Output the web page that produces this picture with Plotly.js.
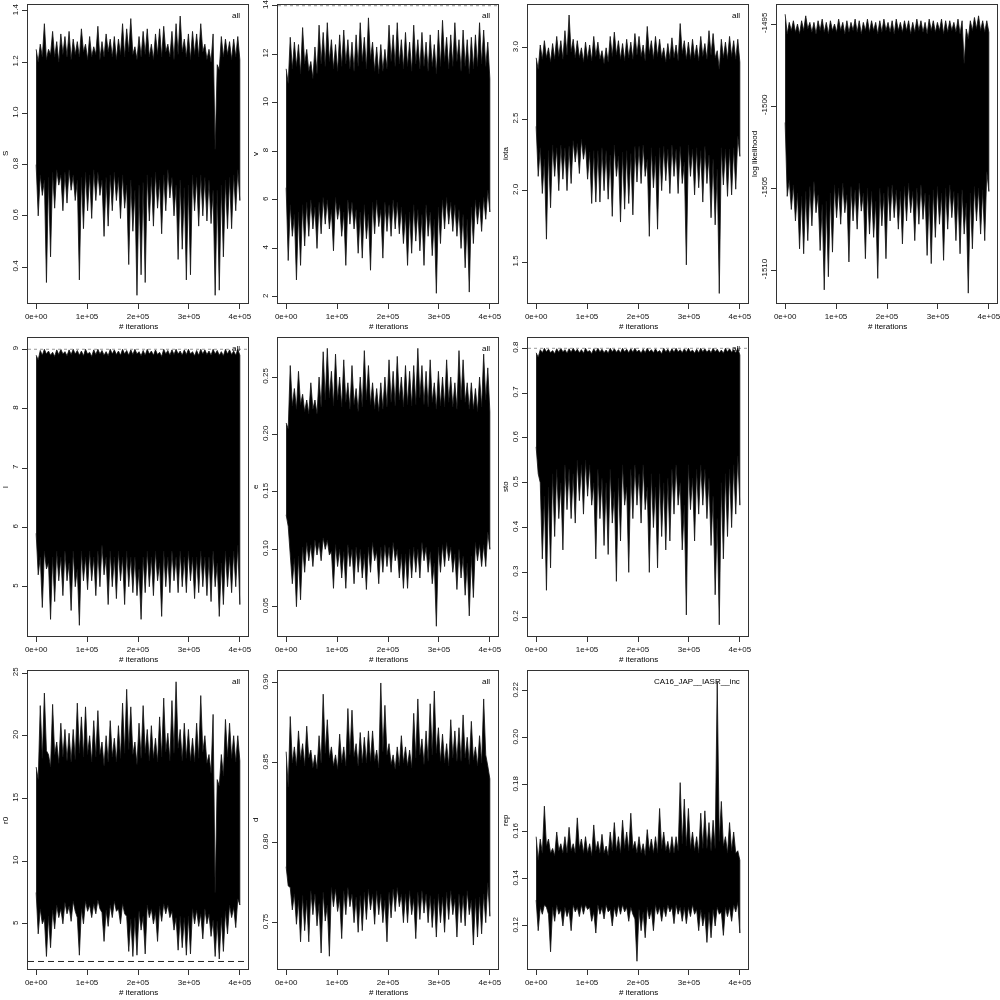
<!DOCTYPE html>
<html>
<head>
<meta charset="utf-8">
<script src="https://cdn.plot.ly/plotly-3.0.1.min.js"></script>
<style>html,body{margin:0;padding:0;background:#fff;}#chart{width:1000px;height:1000px;will-change:transform;}</style>
</head>
<body>
<div id="chart"></div>
<script>
// ---------- data: spike peaks / valleys of each MCMC trace envelope ----------
const iterMax = 400000;
const xTickVals = [0, 100000, 200000, 300000, 400000];
const xTickText = ['0e+00', '1e+05', '2e+05', '3e+05', '4e+05'];

const S_peak = [1.25,1.27,1.35,1.25,1.32,1.28,1.31,1.30,1.32,1.29,1.28,1.33,1.27,1.30,1.26,1.34,1.28,1.31,1.29,1.30,1.29,1.35,1.33,1.37,1.26,1.30,1.32,1.33,1.27,1.31,1.33,1.34,1.27,1.32,1.35,1.38,1.29,1.31,1.32,1.31,1.35,1.27,1.25,1.31,1.19,1.30,1.29,1.28,1.29,1.30];
const S_topV = [1.20,1.22,1.21,1.23,1.22,1.20,1.23,1.22,1.21,1.23,1.22,1.24,1.21,1.22,1.23,1.21,1.22,1.24,1.22,1.21,1.23,1.22,1.24,1.23,1.21,1.22,1.23,1.22,1.21,1.23,1.22,1.24,1.22,1.21,1.23,1.24,1.22,1.21,1.23,1.22,1.24,1.21,1.20,0.86,1.17,1.22,1.23,1.21,1.22,1.21];
const S_trough = [0.60,0.68,0.34,0.44,0.63,0.72,0.62,0.65,0.70,0.66,0.35,0.55,0.62,0.59,0.66,0.68,0.52,0.56,0.62,0.66,0.59,0.63,0.41,0.54,0.29,0.37,0.34,0.58,0.56,0.63,0.53,0.62,0.67,0.60,0.43,0.47,0.35,0.37,0.62,0.56,0.60,0.58,0.57,0.29,0.31,0.44,0.55,0.55,0.62,0.66];
const S_botV = [0.80,0.76,0.74,0.75,0.77,0.78,0.76,0.77,0.78,0.76,0.74,0.75,0.77,0.76,0.78,0.77,0.74,0.75,0.76,0.77,0.75,0.76,0.72,0.74,0.70,0.72,0.73,0.76,0.75,0.77,0.74,0.76,0.78,0.75,0.72,0.74,0.71,0.72,0.76,0.75,0.76,0.75,0.74,0.70,0.70,0.72,0.74,0.75,0.76,0.78];

const v_peak = [11.4,12.7,12.5,12.4,13.1,12.2,11.7,12.3,13.2,12.9,13.3,12.6,12.4,12.8,13.0,12.6,12.5,12.8,13.3,12.7,13.5,12.5,12.3,12.4,12.2,13.2,12.8,13.3,12.6,12.9,12.5,13.2,12.6,12.9,12.5,12.8,12.4,13.0,13.4,12.7,12.8,13.3,12.6,13.0,12.6,12.7,12.8,13.3,13.0,12.5];
const v_topV = [10.8,11.4,11.5,11.2,11.6,11.3,11.0,11.2,11.6,11.5,11.7,11.4,11.3,11.5,11.6,11.4,11.3,11.5,11.7,11.4,11.8,11.3,11.2,11.3,11.4,11.7,11.5,11.6,11.4,11.5,11.3,11.6,11.4,11.5,11.3,11.5,11.2,11.5,11.7,11.4,11.5,11.7,11.3,11.5,11.2,11.4,11.5,11.6,11.5,11.0];
const v_trough = [3.5,4.5,2.7,3.3,4.1,4.5,4.8,4.0,4.6,5.0,4.8,3.9,5.2,4.5,3.3,5.0,4.8,3.8,3.6,4.4,3.1,4.6,4.9,3.6,4.7,4.5,4.8,4.6,4.2,3.3,3.8,4.3,3.9,3.3,4.5,3.7,2.15,4.2,4.8,5.0,4.7,4.5,4.0,3.2,2.2,4.2,5.0,4.7,5.2,5.5];
const v_botV = [6.5,5.8,5.4,5.5,5.8,5.9,6.0,5.7,5.9,6.1,6.0,5.6,6.1,5.8,5.5,6.0,5.9,5.6,5.5,5.8,5.4,5.9,6.0,5.6,5.9,5.8,6.0,5.9,5.7,5.4,5.5,5.8,5.6,5.4,5.8,5.5,5.2,5.7,6.0,6.1,5.9,5.8,5.6,5.4,5.2,5.7,6.0,5.9,6.1,6.4];

const iota_peak = [2.93,3.02,3.05,3.00,3.03,3.08,3.05,3.12,3.23,3.06,3.05,3.00,3.04,3.02,3.08,3.04,2.98,3.00,3.08,3.11,3.05,3.03,3.06,3.04,3.10,3.08,3.02,3.15,3.05,3.08,3.06,3.00,3.03,3.07,3.02,3.17,3.05,3.04,3.06,3.02,3.08,3.03,3.12,3.10,2.98,3.06,3.04,3.08,3.05,3.06];
const iota_topV = [2.85,2.92,2.93,2.90,2.92,2.94,2.92,2.95,2.97,2.93,2.93,2.90,2.92,2.91,2.94,2.92,2.89,2.90,2.94,2.95,2.92,2.91,2.93,2.92,2.95,2.94,2.91,2.96,2.92,2.94,2.93,2.90,2.92,2.93,2.91,2.96,2.92,2.92,2.93,2.91,2.94,2.92,2.95,2.93,2.85,2.93,2.92,2.94,2.92,2.90];
const iota_trough = [2.10,1.98,1.66,1.88,2.10,2.00,2.08,2.00,2.05,2.20,2.12,2.22,2.08,1.91,1.92,1.92,2.00,1.94,1.82,2.10,1.78,1.87,1.91,1.83,2.06,2.05,2.10,1.68,2.02,1.73,2.00,2.07,1.98,2.10,1.98,2.05,1.48,2.10,1.97,2.02,1.92,2.05,1.81,1.76,1.28,2.04,1.96,1.97,2.01,2.24];
const iota_botV = [2.45,2.30,2.22,2.28,2.32,2.30,2.32,2.30,2.31,2.35,2.33,2.36,2.32,2.27,2.28,2.28,2.30,2.28,2.25,2.32,2.24,2.27,2.28,2.26,2.31,2.31,2.32,2.22,2.30,2.24,2.30,2.31,2.29,2.32,2.29,2.31,2.20,2.32,2.29,2.30,2.28,2.31,2.25,2.22,2.15,2.30,2.29,2.29,2.30,2.38];

const ll_peak = [-1494.4,-1494.9,-1494.8,-1495.0,-1494.8,-1494.5,-1494.9,-1494.9,-1494.8,-1494.7,-1494.9,-1494.8,-1495.0,-1494.7,-1494.9,-1494.8,-1494.9,-1494.7,-1494.8,-1494.9,-1494.7,-1494.8,-1494.9,-1494.8,-1494.7,-1494.9,-1494.8,-1494.7,-1494.9,-1494.8,-1494.8,-1494.9,-1494.7,-1494.8,-1494.9,-1494.7,-1494.8,-1494.9,-1494.7,-1494.8,-1494.8,-1494.9,-1494.7,-1494.8,-1495.3,-1494.8,-1494.6,-1494.5,-1494.8,-1494.8];
const ll_topV = [-1495.6,-1495.4,-1495.5,-1495.6,-1495.4,-1495.3,-1495.5,-1495.6,-1495.4,-1495.5,-1495.6,-1495.4,-1495.5,-1495.4,-1495.6,-1495.5,-1495.4,-1495.5,-1495.6,-1495.4,-1495.5,-1495.4,-1495.6,-1495.5,-1495.4,-1495.5,-1495.6,-1495.4,-1495.5,-1495.4,-1495.6,-1495.5,-1495.4,-1495.5,-1495.6,-1495.4,-1495.5,-1495.4,-1495.6,-1495.5,-1495.4,-1495.5,-1495.6,-1497.4,-1495.9,-1495.4,-1495.3,-1495.4,-1495.5,-1495.5];
const ll_trough = [-1505.5,-1506.3,-1507.0,-1508.7,-1509.0,-1508.2,-1507.3,-1506.5,-1508.8,-1511.2,-1510.4,-1508.9,-1506.8,-1507.2,-1506.5,-1509.5,-1507.0,-1507.5,-1506.4,-1509.3,-1507.8,-1508.0,-1510.5,-1507.3,-1509.3,-1507.0,-1506.8,-1507.5,-1508.4,-1507.0,-1506.5,-1508.2,-1507.2,-1506.9,-1509.1,-1509.6,-1508.0,-1507.2,-1509.4,-1507.5,-1506.8,-1508.2,-1509.0,-1507.8,-1511.4,-1508.7,-1507.0,-1507.8,-1508.2,-1505.2];
const ll_botV = [-1501.0,-1504.5,-1504.8,-1505.3,-1505.5,-1505.2,-1504.9,-1504.6,-1505.4,-1506.0,-1505.8,-1505.3,-1504.8,-1505.0,-1504.7,-1505.4,-1504.9,-1505.1,-1504.7,-1505.3,-1505.0,-1505.2,-1505.8,-1505.0,-1505.3,-1504.9,-1504.8,-1505.1,-1505.2,-1504.9,-1504.7,-1505.2,-1505.0,-1504.8,-1505.3,-1505.4,-1505.1,-1504.9,-1505.3,-1505.0,-1504.8,-1505.2,-1505.3,-1505.1,-1505.9,-1505.3,-1504.9,-1505.0,-1505.1,-1504.0];

const l_peak = [8.90,8.98,9.00,8.97,8.95,8.99,9.00,8.96,8.99,9.00,8.98,8.97,9.00,8.95,8.99,9.00,8.98,8.96,9.00,8.99,8.97,9.00,8.98,8.99,9.00,8.96,8.98,9.00,8.97,8.99,8.95,9.00,8.98,8.99,9.00,8.97,8.99,9.00,8.96,8.98,9.00,8.99,8.97,9.00,8.98,8.96,9.00,8.99,8.97,9.00];
const l_topV = [8.82,8.90,8.92,8.90,8.88,8.91,8.92,8.89,8.91,8.92,8.90,8.89,8.92,8.88,8.91,8.92,8.90,8.89,8.92,8.91,8.90,8.92,8.90,8.91,8.92,8.89,8.90,8.92,8.90,8.91,8.88,8.92,8.90,8.91,8.92,8.90,8.91,8.92,8.89,8.90,8.92,8.91,8.90,8.92,8.90,8.89,8.92,8.91,8.90,8.90];
const l_trough = [5.2,4.65,5.3,4.45,4.75,5.1,4.85,5.1,4.6,5.0,4.35,5.1,4.95,5.1,4.85,5.0,5.2,4.7,5.0,4.8,5.1,4.7,5.0,4.9,4.85,4.45,4.9,5.0,4.85,5.1,4.5,5.0,4.9,5.1,4.9,5.0,4.9,5.1,4.8,4.9,5.0,4.85,4.75,5.0,4.5,4.7,5.0,4.9,5.0,4.7];
const l_botV = [5.9,5.5,5.6,5.4,5.5,5.6,5.5,5.6,5.4,5.6,5.3,5.6,5.5,5.6,5.5,5.6,5.7,5.5,5.6,5.5,5.6,5.5,5.6,5.5,5.5,5.3,5.5,5.6,5.5,5.6,5.4,5.6,5.5,5.6,5.5,5.6,5.5,5.6,5.5,5.5,5.6,5.5,5.5,5.6,5.4,5.4,5.6,5.5,5.6,5.7];

const e_peak = [0.210,0.260,0.240,0.255,0.235,0.230,0.245,0.230,0.250,0.272,0.275,0.255,0.270,0.250,0.265,0.245,0.260,0.240,0.250,0.273,0.260,0.245,0.240,0.245,0.250,0.265,0.255,0.268,0.250,0.260,0.255,0.260,0.275,0.260,0.255,0.265,0.245,0.255,0.250,0.265,0.250,0.245,0.273,0.265,0.245,0.245,0.240,0.250,0.270,0.258];
const e_topV = [0.205,0.225,0.222,0.226,0.220,0.218,0.222,0.218,0.224,0.230,0.232,0.225,0.230,0.224,0.228,0.222,0.226,0.220,0.224,0.230,0.226,0.222,0.220,0.222,0.224,0.228,0.225,0.230,0.224,0.226,0.225,0.226,0.232,0.226,0.224,0.228,0.222,0.225,0.224,0.228,0.224,0.222,0.230,0.228,0.222,0.222,0.220,0.224,0.230,0.220];
const e_trough = [0.120,0.070,0.050,0.056,0.080,0.090,0.085,0.095,0.090,0.100,0.095,0.066,0.085,0.075,0.066,0.085,0.070,0.080,0.075,0.065,0.080,0.090,0.070,0.080,0.085,0.080,0.090,0.075,0.066,0.066,0.075,0.080,0.075,0.090,0.080,0.070,0.033,0.080,0.085,0.090,0.080,0.065,0.075,0.060,0.042,0.058,0.090,0.085,0.085,0.100];
const e_botV = [0.130,0.100,0.092,0.094,0.102,0.106,0.104,0.108,0.106,0.110,0.108,0.098,0.104,0.100,0.098,0.104,0.100,0.102,0.100,0.096,0.102,0.106,0.098,0.102,0.104,0.102,0.106,0.100,0.096,0.096,0.100,0.102,0.100,0.106,0.102,0.098,0.088,0.102,0.104,0.106,0.102,0.096,0.100,0.094,0.088,0.094,0.106,0.104,0.104,0.115];

const sto_peak = [0.790,0.797,0.800,0.798,0.795,0.799,0.800,0.797,0.799,0.800,0.798,0.797,0.800,0.795,0.799,0.800,0.798,0.796,0.800,0.799,0.797,0.800,0.798,0.799,0.800,0.796,0.798,0.800,0.797,0.799,0.795,0.800,0.798,0.799,0.800,0.797,0.799,0.800,0.796,0.798,0.800,0.799,0.797,0.800,0.798,0.796,0.800,0.799,0.797,0.800];
const sto_topV = [0.780,0.790,0.792,0.790,0.788,0.791,0.792,0.789,0.791,0.792,0.790,0.789,0.792,0.788,0.791,0.792,0.790,0.789,0.792,0.791,0.790,0.792,0.790,0.791,0.792,0.789,0.790,0.792,0.790,0.791,0.788,0.792,0.790,0.791,0.792,0.790,0.791,0.792,0.789,0.790,0.792,0.791,0.790,0.792,0.790,0.789,0.792,0.791,0.790,0.785];
const sto_trough = [0.52,0.33,0.26,0.31,0.38,0.42,0.35,0.44,0.42,0.41,0.46,0.43,0.47,0.45,0.33,0.42,0.36,0.34,0.41,0.28,0.37,0.45,0.30,0.42,0.45,0.41,0.44,0.30,0.40,0.31,0.38,0.35,0.37,0.43,0.45,0.35,0.205,0.44,0.37,0.43,0.45,0.42,0.36,0.25,0.183,0.33,0.38,0.40,0.43,0.45];
const sto_botV = [0.58,0.50,0.47,0.49,0.52,0.53,0.50,0.54,0.53,0.52,0.55,0.54,0.55,0.54,0.50,0.53,0.51,0.50,0.53,0.48,0.51,0.54,0.49,0.53,0.54,0.52,0.54,0.49,0.52,0.49,0.52,0.50,0.51,0.53,0.54,0.50,0.45,0.54,0.51,0.53,0.54,0.53,0.51,0.47,0.42,0.50,0.52,0.53,0.54,0.56];

const r0_peak = [17.5,22.4,23.4,18.5,22.5,19.5,21.0,20.5,20.2,20.5,22.6,21.5,22.3,20.0,21.2,22.0,19.5,20.0,21.2,19.8,20.8,22.6,23.7,22.3,19.5,21.0,22.4,20.5,20.8,19.8,21.5,23.0,20.2,22.8,24.3,20.5,21.0,20.5,19.8,21.0,23.2,20.0,18.5,21.7,16.5,18.5,21.3,21.0,20.0,20.0];
const r0_topV = [16.5,18.2,18.8,17.5,18.5,17.8,18.3,18.0,17.9,18.1,18.6,18.3,18.5,17.9,18.3,18.5,17.6,17.9,18.3,17.9,18.2,18.6,18.9,18.5,17.7,18.2,18.6,18.0,18.2,17.9,18.3,18.7,18.0,18.6,19.0,18.0,18.2,18.0,17.9,18.2,18.7,17.8,17.0,7.5,16.0,16.8,18.3,18.2,17.9,18.0];
const r0_trough = [4.2,5.0,2.4,3.1,4.6,5.5,5.0,5.8,5.2,6.0,2.5,5.0,6.0,5.5,5.8,6.2,3.6,4.8,5.5,6.0,5.0,5.8,2.8,2.4,2.5,4.5,2.6,5.5,5.0,3.6,5.2,5.8,5.5,4.5,2.9,3.1,2.5,2.6,5.0,4.8,3.8,5.0,4.0,2.4,2.2,2.8,4.2,5.5,4.7,6.5];
const r0_botV = [7.5,6.2,5.4,5.6,6.1,6.5,6.2,6.7,6.4,6.8,5.5,6.2,6.8,6.5,6.6,6.9,5.9,6.1,6.5,6.8,6.2,6.6,5.6,5.4,5.5,6.0,5.6,6.5,6.2,5.9,6.4,6.6,6.5,6.0,5.5,5.6,5.5,5.6,6.2,6.1,5.8,6.2,5.8,5.3,5.2,5.5,6.0,6.5,6.3,7.0];

const d_peak = [0.857,0.879,0.860,0.870,0.862,0.873,0.858,0.855,0.867,0.893,0.877,0.860,0.855,0.868,0.860,0.884,0.883,0.862,0.869,0.866,0.870,0.870,0.858,0.900,0.886,0.862,0.855,0.860,0.867,0.860,0.858,0.881,0.890,0.865,0.870,0.887,0.895,0.872,0.868,0.862,0.877,0.870,0.872,0.880,0.866,0.876,0.860,0.867,0.890,0.848];
const d_topV = [0.835,0.850,0.848,0.852,0.848,0.853,0.847,0.846,0.850,0.856,0.853,0.848,0.846,0.850,0.848,0.855,0.854,0.848,0.850,0.850,0.851,0.851,0.847,0.857,0.855,0.849,0.846,0.848,0.850,0.848,0.847,0.853,0.855,0.849,0.851,0.855,0.856,0.851,0.850,0.848,0.853,0.851,0.851,0.853,0.849,0.852,0.848,0.850,0.855,0.840];
const d_trough = [0.773,0.758,0.749,0.738,0.745,0.738,0.755,0.748,0.731,0.751,0.729,0.760,0.757,0.740,0.755,0.760,0.750,0.744,0.745,0.752,0.758,0.749,0.755,0.750,0.738,0.753,0.757,0.760,0.750,0.750,0.755,0.740,0.752,0.756,0.750,0.747,0.741,0.750,0.744,0.752,0.755,0.741,0.750,0.748,0.755,0.736,0.741,0.743,0.750,0.754];
const d_botV = [0.785,0.772,0.768,0.764,0.767,0.764,0.770,0.768,0.762,0.769,0.761,0.772,0.771,0.765,0.770,0.772,0.768,0.766,0.767,0.769,0.771,0.768,0.770,0.768,0.764,0.769,0.771,0.772,0.768,0.768,0.770,0.765,0.769,0.770,0.768,0.767,0.765,0.768,0.766,0.769,0.770,0.765,0.768,0.767,0.770,0.764,0.765,0.766,0.768,0.775];

const rep_peak = [0.158,0.157,0.171,0.157,0.153,0.160,0.155,0.158,0.162,0.155,0.166,0.157,0.158,0.155,0.163,0.156,0.159,0.154,0.160,0.164,0.158,0.165,0.160,0.168,0.156,0.158,0.155,0.161,0.157,0.158,0.170,0.160,0.156,0.158,0.158,0.181,0.174,0.170,0.160,0.158,0.168,0.169,0.164,0.165,0.224,0.173,0.158,0.164,0.160,0.152];
const rep_topV = [0.148,0.151,0.154,0.151,0.150,0.152,0.151,0.151,0.152,0.151,0.153,0.151,0.151,0.150,0.152,0.151,0.151,0.150,0.152,0.152,0.151,0.153,0.152,0.153,0.151,0.151,0.150,0.152,0.151,0.151,0.153,0.152,0.151,0.151,0.152,0.155,0.154,0.153,0.152,0.151,0.153,0.153,0.152,0.153,0.156,0.154,0.151,0.152,0.151,0.148];
const rep_trough = [0.118,0.125,0.128,0.109,0.122,0.125,0.120,0.124,0.118,0.126,0.124,0.125,0.127,0.122,0.117,0.125,0.123,0.126,0.120,0.124,0.125,0.126,0.122,0.125,0.105,0.118,0.115,0.123,0.118,0.125,0.122,0.124,0.126,0.121,0.125,0.122,0.121,0.124,0.125,0.118,0.120,0.113,0.115,0.120,0.125,0.116,0.124,0.122,0.126,0.117];
const rep_botV = [0.131,0.128,0.129,0.125,0.128,0.129,0.127,0.128,0.127,0.129,0.128,0.129,0.129,0.128,0.126,0.129,0.128,0.129,0.127,0.128,0.129,0.129,0.128,0.128,0.123,0.127,0.126,0.128,0.127,0.129,0.128,0.128,0.129,0.128,0.129,0.128,0.128,0.128,0.129,0.127,0.127,0.125,0.126,0.127,0.128,0.126,0.128,0.128,0.129,0.130];

// parameter names, tags, tick labels
const paramNames = ['S', 'v', 'iota', 'log likelihood', 'l', 'e', 'sto', 'r0', 'd', 'rep'];
const panelTags = ['all', 'all', 'all', '', 'all', 'all', 'all', 'all', 'all', 'CA16_JAP__IASR__inc'];
const yTickVals = [
  [0.4,0.6,0.8,1.0,1.2,1.4], [2,4,6,8,10,12,14], [1.5,2.0,2.5,3.0], [-1510,-1505,-1500,-1495],
  [5,6,7,8,9], [0.05,0.10,0.15,0.20,0.25], [0.2,0.3,0.4,0.5,0.6,0.7,0.8],
  [5,10,15,20,25], [0.75,0.80,0.85,0.90], [0.12,0.14,0.16,0.18,0.20,0.22]
];
const yTickText = [
  ['0.4','0.6','0.8','1.0','1.2','1.4'], ['2','4','6','8','10','12','14'], ['1.5','2.0','2.5','3.0'], ['-1510','-1505','-1500','-1495'],
  ['5','6','7','8','9'], ['0.05','0.10','0.15','0.20','0.25'], ['0.2','0.3','0.4','0.5','0.6','0.7','0.8'],
  ['5','10','15','20','25'], ['0.75','0.80','0.85','0.90'], ['0.12','0.14','0.16','0.18','0.20','0.22']
];
// prior bounds drawn as reference lines
const boundPanels = [1, 4, 6, 7];
const boundValues = [14, 9, 0.8, 2];

const peakSeries = [S_peak, v_peak, iota_peak, ll_peak, l_peak, e_peak, sto_peak, r0_peak, d_peak, rep_peak];
const topVSeries = [S_topV, v_topV, iota_topV, ll_topV, l_topV, e_topV, sto_topV, r0_topV, d_topV, rep_topV];
const troughSeries = [S_trough, v_trough, iota_trough, ll_trough, l_trough, e_trough, sto_trough, r0_trough, d_trough, rep_trough];
const botVSeries = [S_botV, v_botV, iota_botV, ll_botV, l_botV, e_botV, sto_botV, r0_botV, d_botV, rep_botV];

// ---------- layout geometry (pixels) ----------
const yRanges = [[0.26,1.423],[1.75,14.03],[1.213,3.30],[-1512.0,-1493.84],[4.17,9.19],[0.0245,0.284],[0.158,0.823],[1.4,25.16],[0.721,0.9075],[0.1017,0.2285]];
const rowTop = [5, 338, 671];
const rowBot = [303, 636, 969];
const colLeft = [28, 278, 528, 777];
const colW = 220;
const panelRow = [0,0,0,0,1,1,1,2,2,2];
const panelCol = [0,1,2,3,0,1,2,0,1,2];

const FONT = 'Liberation Sans, Arial, Helvetica, sans-serif';
const FS = 8;
const data = [];
const layout = {
  width: 1000, height: 1000,
  margin: {l: 0, r: 0, t: 0, b: 0},
  paper_bgcolor: '#fff', plot_bgcolor: '#fff',
  showlegend: false,
  font: {family: FONT, size: FS, color: '#000'},
  annotations: [], shapes: []
};

for (let k = 0; k < paramNames.length; k++) {
  const sfx = k === 0 ? '' : String(k + 1);
  const xa = 'x' + sfx, ya = 'y' + sfx;
  const pk = peakSeries[k], tv = topVSeries[k], tr = troughSeries[k], bv = botVSeries[k];
  const n = pk.length;
  const m = 2 * n;
  const topX = [], topY = [], botX = [], botY = [];
  for (let j = 0; j < m; j++) {
    const xj = j * iterMax / (m - 1);
    const i = Math.floor(j / 2);
    topX.push(xj); topY.push(j % 2 === 0 ? pk[i] : tv[i]);
    botX.push(xj); botY.push(j % 2 === 0 ? bv[i] : tr[i]);
  }
  const polyX = topX.concat(botX.slice().reverse());
  const polyY = topY.concat(botY.slice().reverse());
  data.push({x: polyX, y: polyY, xaxis: xa, yaxis: ya, type: 'scatter', mode: 'lines',
    fill: 'toself', fillcolor: '#000', line: {width: 0.8, color: '#111'}, hoverinfo: 'skip'});

  const r = panelRow[k], c = panelCol[k];
  const x0 = colLeft[c], x1 = colLeft[c] + colW;
  const yT = rowTop[r], yB = rowBot[r];
  const axCommon = {
    showline: true, mirror: true, linecolor: '#333', linewidth: 1,
    ticks: 'outside', ticklen: 5, tickcolor: '#333', tickwidth: 1,
    showgrid: false, zeroline: false, fixedrange: true,
    tickfont: {family: FONT, size: FS, color: '#111'}
  };
  layout['xaxis' + sfx] = Object.assign({}, axCommon, {
    domain: [x0 / 1000, x1 / 1000], anchor: ya,
    range: [-16000, 416000], tickmode: 'array', tickvals: xTickVals, ticktext: xTickText,
    ticklabeloverflow: 'allow'
  });
  layout['yaxis' + sfx] = Object.assign({}, axCommon, {
    domain: [1 - yB / 1000, 1 - yT / 1000], anchor: xa,
    range: yRanges[k], tickmode: 'array', tickvals: yTickVals[k], ticktext: yTickText[k], tickangle: -90,
    ticklabeloverflow: 'allow', ticklabelstandoff: 1
  });
  layout.annotations.push({xref: 'paper', yref: 'paper', x: (x0 + colW / 2) / 1000, y: 1 - (yB + 23) / 1000,
    text: '# iterations', showarrow: false, xanchor: 'center', yanchor: 'middle', font: {family: FONT, size: FS, color: '#000'}});
  layout.annotations.push({xref: 'paper', yref: 'paper', x: (x0 - 23) / 1000, y: 1 - ((yT + yB) / 2) / 1000,
    text: paramNames[k], showarrow: false, textangle: -90, xanchor: 'center', yanchor: 'middle', font: {family: FONT, size: FS, color: '#000'}});
  if (panelTags[k]) {
    layout.annotations.push({xref: 'paper', yref: 'paper', x: (x1 - 6) / 1000, y: 1 - (yT + 10) / 1000,
      text: panelTags[k], showarrow: false, xanchor: 'right', yanchor: 'middle', font: {family: FONT, size: FS, color: '#000'}});
  }
}

for (let b = 0; b < boundPanels.length; b++) {
  const k = boundPanels[b];
  const sfx = k === 0 ? '' : String(k + 1);
  const dashed = k === 7;
  layout.shapes.push({type: 'line', xref: 'x' + sfx + ' domain', yref: 'y' + sfx, x0: 0, x1: 1, y0: boundValues[b], y1: boundValues[b],
    line: {color: dashed ? '#222' : '#999', width: 1, dash: dashed ? '6px,4px' : 'dot'}, layer: 'above'});
}

Plotly.newPlot('chart', data, layout, {staticPlot: true, displayModeBar: false});
</script>
</body>
</html>
